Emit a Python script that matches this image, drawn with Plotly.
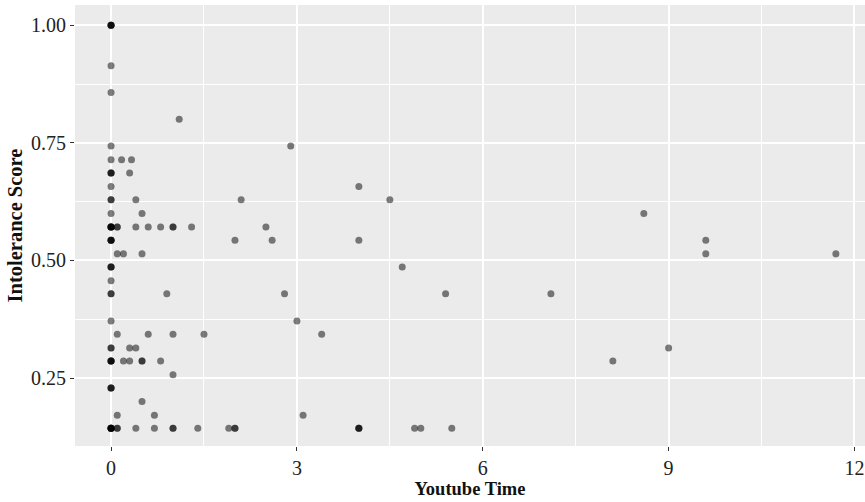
import plotly.graph_objects as go

# Youtube Time (hours) and Intolerance Score, one entry per respondent (overlaps repeated)
youtube_time = (
    [0, 0, 0, 0] + [0] + [0] + [1.1] + [0, 2.9]
    + [0, 0.17, 0.33]
    + [0, 0, 0, 0.3]
    + [0, 4.0]
    + [0, 0, 0.4, 2.1, 4.5]
    + [0, 0.5, 8.6]
    + [0, 0, 0, 0, 0, 0.1, 0.1, 0.4, 0.6, 0.8, 1.0, 1.0, 1.3, 2.5]
    + [0, 0, 0, 0, 2.0, 2.6, 4.0, 9.6]
    + [0.1, 0.2, 0.5, 9.6, 11.7]
    + [0, 0, 0, 4.7]
    + [0]
    + [0, 0, 0.9, 2.8, 5.4, 7.1]
    + [0, 3.0]
    + [0.1, 0.6, 1.0, 1.5, 3.4]
    + [0, 0, 0.3, 0.4, 9.0]
    + [0, 0, 0, 0, 0.2, 0.3, 0.5, 0.5, 0.8, 8.1]
    + [1.0]
    + [0, 0, 0]
    + [0.5]
    + [0.1, 0.7, 3.1]
    + [0, 0, 0, 0, 0, 0, 0.1, 0.1, 0.4, 0.7, 1.0, 1.0, 1.4, 1.9, 2.0, 2.0, 4.0, 4.0, 4.0, 4.9, 5.0, 5.5]
)
intolerance_score = (
    [1.0] * 4 + [0.914] + [0.857] + [0.8] + [0.743] * 2
    + [0.714] * 3
    + [0.686] * 4
    + [0.657] * 2
    + [0.629] * 5
    + [0.6] * 3
    + [0.571] * 14
    + [0.543] * 8
    + [0.514] * 5
    + [0.486] * 4
    + [0.457]
    + [0.429] * 6
    + [0.371] * 2
    + [0.343] * 5
    + [0.314] * 5
    + [0.286] * 10
    + [0.257]
    + [0.229] * 3
    + [0.2]
    + [0.171] * 3
    + [0.143] * 22
)

x_ticks = [0, 3, 6, 9, 12]
y_ticks = [0.25, 0.50, 0.75, 1.00]
y_tick_labels = ["0.25", "0.50", "0.75", "1.00"]

fig = go.Figure(go.Scatter(
    x=youtube_time, y=intolerance_score, mode="markers",
    marker=dict(size=7, color="rgba(0,0,0,0.5)", line=dict(width=0)),
    hoverinfo="x+y",
))

font_family = "Liberation Serif"
fig.update_layout(
    width=865, height=502,
    margin=dict(l=75, r=0, t=5, b=56, pad=0),
    paper_bgcolor="white", plot_bgcolor="#ebebeb",
    showlegend=False,
    font=dict(family=font_family, color="#222", size=20),
)
fig.update_xaxes(
    range=[-0.582, 12.17], tickvals=x_ticks, showline=False, zeroline=False,
    automargin=False, ticklabeloverflow="allow",
    gridcolor="white", gridwidth=1.6,
    minor=dict(tickvals=[1.5, 4.5, 7.5, 10.5], showgrid=True, gridcolor="white", gridwidth=0.8),
    ticks="outside", ticklen=4, tickcolor="#333", tickwidth=1,
    tickfont=dict(size=20, color="#222"),
    title=dict(text="<b>Youtube Time</b>", font=dict(size=18.5, color="#111"), standoff=2),
)
fig.update_yaxes(
    range=[0.1055, 1.043], tickvals=y_ticks, ticktext=y_tick_labels, showline=False, zeroline=False,
    automargin=False,
    gridcolor="white", gridwidth=1.6,
    minor=dict(tickvals=[0.375, 0.625, 0.875], showgrid=True, gridcolor="white", gridwidth=0.8),
    ticks="outside", ticklen=4, tickcolor="#333", tickwidth=1,
    tickfont=dict(size=20, color="#222"),
    title=dict(text="<b>Intolerance Score</b>", font=dict(size=20.5, color="#111"), standoff=2),
)
fig.write_html(
    "out.html",
    config={"displayModeBar": False},
    post_script="document.body.style.margin='0';document.body.style.overflow='hidden';",
)
